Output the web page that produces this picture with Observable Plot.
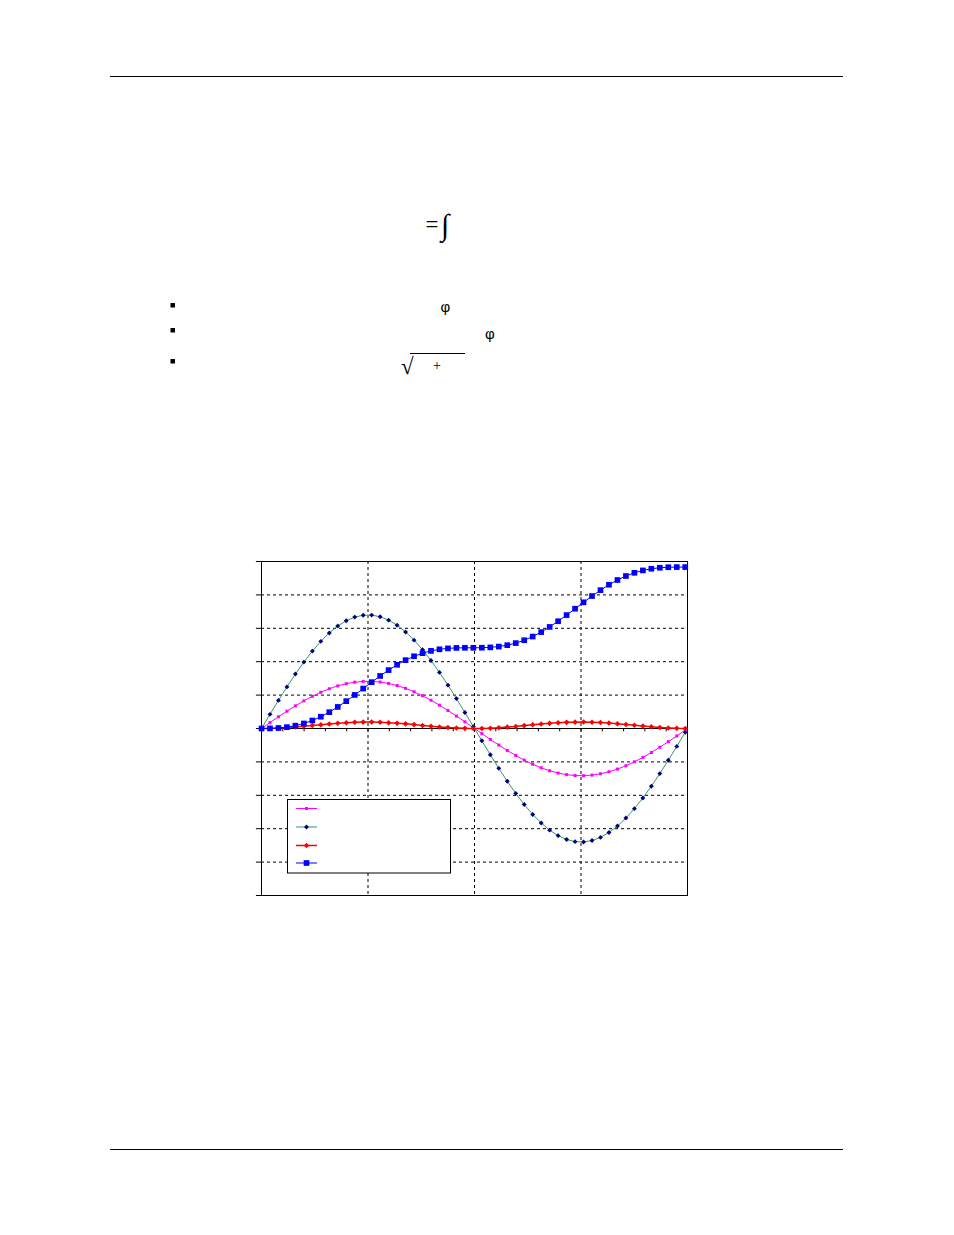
<!DOCTYPE html>
<html>
<head>
<meta charset="utf-8">
<script src="https://cdn.jsdelivr.net/npm/d3@7"></script>
<script src="https://cdn.jsdelivr.net/npm/@observablehq/plot@0.6"></script>
<style>
  html, body { margin: 0; padding: 0; background: #fff; }
  #page { position: relative; width: 954px; height: 1235px; background: #fff; overflow: hidden; }
  #page > * { position: absolute; }
  #chart { left: 250px; top: 550px; }
  #legend { left: 0; top: 0; }
</style>
</head>
<body>
<div id="page">
  <svg id="deco" width="954" height="1235" style="left:0;top:0"></svg>
  <div id="chart"></div>
  <svg id="legend" width="954" height="1235" style="pointer-events:none"></svg>
</div>
<script>
// ---- data (x in radians, 51 samples) ----
const xValues = [0,0.125,0.25,0.375,0.5,0.625,0.75,0.875,1,1.125,1.25,1.375,1.5,1.625,1.75,1.875,2,2.125,2.25,2.375,2.5,2.625,2.75,2.875,3,3.125,3.25,3.375,3.5,3.625,3.75,3.875,4,4.125,4.25,4.375,4.5,4.625,4.75,4.875,5,5.125,5.25,5.375,5.5,5.625,5.75,5.875,6,6.125,6.25];

const magentaSeries = [0,0.176,0.350,0.518,0.678,0.827,0.964,1.085,1.190,1.276,1.342,1.387,1.410,1.412,1.391,1.349,1.286,1.202,1.100,0.981,0.846,0.698,0.540,0.372,0.200,0.023,-0.153,-0.327,-0.496,-0.657,-0.808,-0.947,-1.070,-1.177,-1.266,-1.334,-1.382,-1.409,-1.413,-1.395,-1.356,-1.295,-1.215,-1.115,-0.998,-0.865,-0.719,-0.561,-0.395,-0.223,-0.047];

const navySeries = [0,0.424,0.841,1.245,1.630,1.989,2.318,2.610,2.861,3.068,3.227,3.335,3.391,3.395,3.346,3.244,3.092,2.891,2.645,2.359,2.035,1.679,1.298,0.896,0.480,0.056,-0.368,-0.786,-1.193,-1.580,-1.943,-2.276,-2.573,-2.830,-3.043,-3.208,-3.324,-3.387,-3.398,-3.355,-3.260,-3.115,-2.920,-2.681,-2.399,-2.080,-1.728,-1.350,-0.950,-0.536,-0.113];

const redSeries = [0,0.0030,0.0118,0.0258,0.0442,0.0658,0.0893,0.1133,0.1362,0.1566,0.1732,0.1850,0.1913,0.1917,0.1862,0.1750,0.1590,0.1390,0.1164,0.0925,0.0689,0.0469,0.0280,0.0133,0.0038,0.0001,0.0023,0.0103,0.0237,0.0415,0.0628,0.0862,0.1101,0.1332,0.1540,0.1712,0.1838,0.1908,0.1920,0.1873,0.1768,0.1614,0.1419,0.1195,0.0957,0.0720,0.0497,0.0303,0.0150,0.0048,0.0002];

const blueSeries = [0,0.0030,0.0148,0.0406,0.0848,0.1506,0.2399,0.3532,0.4894,0.6459,0.8191,1.0041,1.1955,1.3872,1.5734,1.7484,1.9074,2.0465,2.1629,2.2554,2.3243,2.3712,2.3992,2.4126,2.4164,2.4165,2.4187,2.4290,2.4527,2.4942,2.5570,2.6432,2.7533,2.8866,3.0406,3.2118,3.3956,3.5864,3.7785,3.9657,4.1425,4.3039,4.4458,4.5653,4.6611,4.7330,4.7827,4.8130,4.8280,4.8328,4.8330];

const xDomain = [0, 6.2832];
const yDomain = [-5, 5];
const xGridTicks = [1.5708, 3.1416, 4.7124];
const xMinorTicks = [0.3142,0.6283,0.9425,1.2566,1.5708,1.8850,2.1991,2.5133,2.8274,3.1416,3.4558,3.7699,4.0841,4.3982,4.7124,5.0265,5.3407,5.6549,5.9690,6.2832];
const yGridTicks = [-4,-3,-2,-1,1,2,3,4];
const yAxisTicks = [-5,-4,-3,-2,-1,0,1,2,3,4,5];

const seriesNames = ["s1", "s2", "s3", "s4"];
const seriesValues = [magentaSeries, navySeries, redSeries, blueSeries];
const lineColors = ["#FF00FF", "#339966", "#FF0000", "#0000FF"];
const markColors = ["#FF00FF", "#000080", "#FF0000", "#0000FF"];
const markSymbols = ["square", "diamond2", "diamond2", "square"];
const markRadii = [1.7, 2.2, 2.5, 3.2];
const lineWidths = [1, 1, 1.5, 1];

const rows = seriesValues.map(vals => xValues.map((x, i) => ({x, y: vals[i]})));

const marks = [
  Plot.ruleY(yGridTicks, {stroke: "#000", strokeWidth: 1, strokeDasharray: "3,3"}),
  Plot.ruleX(xGridTicks, {stroke: "#000", strokeWidth: 1, strokeDasharray: "3,3"}),
  Plot.ruleY([0], {stroke: "#000", strokeWidth: 1}),
  Plot.ruleX(xMinorTicks, {y1: 0, y2: -0.1, stroke: "#000", strokeWidth: 1}),
  Plot.ruleY(yAxisTicks, {x1: -0.075, x2: 0, stroke: "#000", strokeWidth: 1}),
  Plot.frame({stroke: "#000", strokeWidth: 1})
];
rows.forEach((data, k) => {
  marks.push(Plot.line(data, {x: "x", y: "y", stroke: lineColors[k], strokeWidth: lineWidths[k]}));
  marks.push(Plot.dot(data, {x: "x", y: "y", symbol: markSymbols[k], r: markRadii[k], fill: markColors[k], stroke: "none"}));
});

const chart = Plot.plot({
  width: 450,
  height: 360,
  marginLeft: 11,
  marginRight: 13,
  marginTop: 11,
  marginBottom: 15,
  x: {type: "linear", domain: xDomain, axis: null},
  y: {type: "linear", domain: yDomain, axis: null},
  style: {background: "transparent", overflow: "visible"},
  marks
});
document.getElementById("chart").appendChild(chart);

// ---- legend (sample lines & markers, box filled white) ----
const lg = d3.select("#legend");
lg.append("rect").attr("x", 287.5).attr("y", 799.5).attr("width", 163).attr("height", 73.5)
  .attr("fill", "#fff").attr("stroke", "#000").attr("stroke-width", 1);
const legendRows = [808.5, 827, 845.5, 863];
seriesNames.forEach((name, k) => {
  const yy = legendRows[k];
  lg.append("line").attr("x1", 296).attr("x2", 317).attr("y1", yy).attr("y2", yy)
    .attr("stroke", lineColors[k]).attr("stroke-width", lineWidths[k]);
  const sym = markSymbols[k] === "square" ? d3.symbolSquare : d3.symbolDiamond2;
  lg.append("path").attr("transform", `translate(306.5,${yy})`)
    .attr("d", d3.symbol(sym, markRadii[k] * markRadii[k] * Math.PI)())
    .attr("fill", markColors[k]);
});

// ---- page decoration ----
const dg = d3.select("#deco");
dg.append("line").attr("x1", 110).attr("x2", 843).attr("y1", 76.5).attr("y2", 76.5).attr("stroke", "#000");
dg.append("line").attr("x1", 110).attr("x2", 843).attr("y1", 1149.5).attr("y2", 1149.5).attr("stroke", "#000");
[303, 328, 359].forEach(y => dg.append("rect").attr("x", 170.5).attr("y", y).attr("width", 4.5).attr("height", 4.5).attr("fill", "#000"));
dg.append("text").attr("x", 425.5).attr("y", 232).attr("font-family", "Liberation Serif").attr("font-size", 23).text("=");
dg.append("text").attr("x", 441).attr("y", 235).attr("font-family", "Liberation Serif").attr("font-size", 30).text("∫");
dg.append("text").attr("x", 440.5).attr("y", 312).attr("font-family", "Liberation Sans").attr("font-size", 15).text("φ");
dg.append("text").attr("x", 485).attr("y", 339).attr("font-family", "Liberation Sans").attr("font-size", 15).text("φ");
dg.append("text").attr("x", 401).attr("y", 374).attr("font-family", "Liberation Serif").attr("font-size", 23).text("√");
dg.append("line").attr("x1", 410).attr("x2", 465).attr("y1", 353.5).attr("y2", 353.5).attr("stroke", "#000");
dg.append("text").attr("x", 433).attr("y", 370).attr("font-family", "Liberation Serif").attr("font-size", 14).text("+");
</script>
</body>
</html>
